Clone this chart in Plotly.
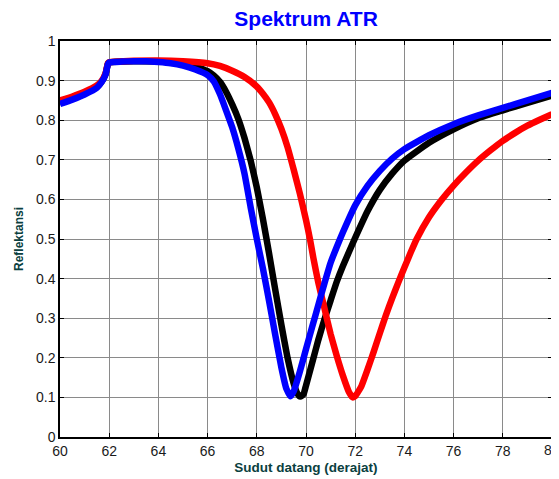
import plotly.graph_objects as go

# --- data ---
blue_x = [60.0, 60.5, 61.0, 61.5, 61.7, 61.85, 61.95, 62.0, 62.5, 63.0, 63.5, 64.0, 64.5, 65.0, 65.5,
          66.0, 66.25, 66.5, 66.75, 67.0, 67.25, 67.5, 67.75, 68.0, 68.25, 68.5, 68.75, 69.0, 69.2,
          69.37, 69.5, 69.75, 70.0, 70.25, 70.5, 70.75, 71.0, 71.25, 71.5, 72.0, 72.5, 73.0, 73.5,
          74.0, 75.0, 76.0, 77.0, 78.0, 79.0, 80.0]
blue_y = [0.841, 0.852, 0.865, 0.882, 0.897, 0.915, 0.942, 0.946, 0.948, 0.949, 0.949, 0.947, 0.944,
          0.938, 0.928, 0.914, 0.898, 0.866, 0.825, 0.782, 0.728, 0.665, 0.580, 0.500, 0.425, 0.343,
          0.258, 0.175, 0.122, 0.103, 0.115, 0.165, 0.222, 0.278, 0.333, 0.388, 0.440, 0.480, 0.517,
          0.585, 0.634, 0.672, 0.703, 0.727, 0.762, 0.790, 0.812, 0.831, 0.850, 0.869]

black_x = [60.0, 60.5, 61.0, 61.5, 61.7, 61.85, 61.95, 62.0, 63.0, 64.0, 64.5, 65.0, 65.5, 66.0,
           66.25, 66.5, 66.75, 67.0, 67.25, 67.5, 67.75, 68.0, 68.25, 68.5, 68.75, 69.0, 69.25,
           69.5, 69.65, 69.77, 69.9, 70.0, 70.25, 70.5, 70.75, 71.0, 71.25, 71.5, 72.0, 72.5, 73.0,
           73.5, 74.0, 75.0, 76.0, 77.0, 78.0, 79.0, 80.0]
black_y = [0.843, 0.854, 0.867, 0.884, 0.898, 0.916, 0.943, 0.946, 0.949, 0.948, 0.946, 0.943, 0.935,
           0.924, 0.913, 0.897, 0.872, 0.840, 0.803, 0.755, 0.698, 0.630, 0.550, 0.463, 0.372, 0.283,
           0.200, 0.135, 0.110, 0.102, 0.108, 0.130, 0.187, 0.245, 0.297, 0.345, 0.392, 0.432, 0.503,
           0.570, 0.624, 0.665, 0.698, 0.743, 0.777, 0.805, 0.825, 0.844, 0.862]

red_x = [60.0, 60.5, 61.0, 61.5, 61.7, 61.85, 61.95, 62.0, 63.0, 64.0, 65.0, 66.0, 66.5, 67.0, 67.5,
         68.0, 68.25, 68.5, 68.75, 69.0, 69.25, 69.5, 69.75, 70.0, 70.16, 70.3, 70.5, 70.75, 71.0,
         71.25, 71.5, 71.75, 71.9, 72.0, 72.25, 72.5, 72.75, 73.0, 73.25, 73.5, 73.75, 74.0, 74.25,
         74.5, 75.0, 75.5, 76.0, 76.5, 77.0, 77.5, 78.0, 78.5, 79.0, 79.5, 80.0]
red_y = [0.850, 0.860, 0.872, 0.888, 0.900, 0.918, 0.944, 0.946, 0.950, 0.951, 0.949, 0.944, 0.937,
         0.925, 0.909, 0.885, 0.867, 0.845, 0.815, 0.778, 0.732, 0.675, 0.615, 0.548, 0.500, 0.452,
         0.390, 0.325, 0.260, 0.205, 0.155, 0.113, 0.100, 0.103, 0.128, 0.170, 0.215, 0.262, 0.308,
         0.350, 0.390, 0.428, 0.465, 0.500, 0.555, 0.598, 0.635, 0.668, 0.698, 0.724, 0.748, 0.768,
         0.786, 0.801, 0.815]

x_ticks = [60, 62, 64, 66, 68, 70, 72, 74, 76, 78, 80]
y_ticks = [0, 0.1, 0.2, 0.3, 0.4, 0.5, 0.6, 0.7, 0.8, 0.9, 1]
y_labels = ["0", "0.1", "0.2", "0.3", "0.4", "0.5", "0.6", "0.7", "0.8", "0.9", "1"]

FONT = "Liberation Sans, Arial, sans-serif"
TICK_FONT = dict(family=FONT, size=14, color="#1a1a1a")

fig = go.Figure()
for xs, ys, col in [(black_x, black_y, "#000000"), (red_x, red_y, "#FF0000"), (blue_x, blue_y, "#0000FF")]:
    fig.add_trace(go.Scatter(x=xs, y=ys, mode="lines",
                             line=dict(color=col, width=6.5, shape="spline", smoothing=0.4),
                             showlegend=False, cliponaxis=False))

axis_common = dict(showgrid=True, gridcolor="#8a8a8a", gridwidth=1, automargin=False,
                   showline=True, linecolor="black", linewidth=1.5, mirror="ticks",
                   ticks="inside", ticklen=4, tickcolor="black", zeroline=False,
                   tickfont=TICK_FONT)

# the last x tick label sits on the page edge (clipped in the reference); draw it as annotation
fig.add_annotation(x=x_ticks[-1], y=0, xref="x", yref="paper", text=str(x_ticks[-1]),
                   showarrow=False, yanchor="top", yshift=-3, font=TICK_FONT)

# page body has an 8px default margin, so the figure is sized/offset to compensate
fig.update_layout(
    width=551, height=471,
    margin=dict(l=52, r=7, t=33, b=42),
    paper_bgcolor="white", plot_bgcolor="white",
    title=dict(text="<b>Spektrum ATR</b>", x=0.541, xanchor="center", y=0.994, yanchor="top",
               font=dict(family=FONT, size=21, color="#0000FF")),
    xaxis=dict(range=[60, 80], tickvals=x_ticks[:-1],
               title=dict(text="<b>Sudut datang (derajat)</b>",
                          font=dict(family=FONT, size=13.5, color="#0a4040"), standoff=5),
               **axis_common),
    yaxis=dict(range=[0, 1], tickvals=y_ticks, ticktext=y_labels,
               title=dict(text="<b>Reflektansi</b>", font=dict(family=FONT, size=12, color="#0a4040"),
                          standoff=10), **axis_common),
)

fig.write_html("out.html")
